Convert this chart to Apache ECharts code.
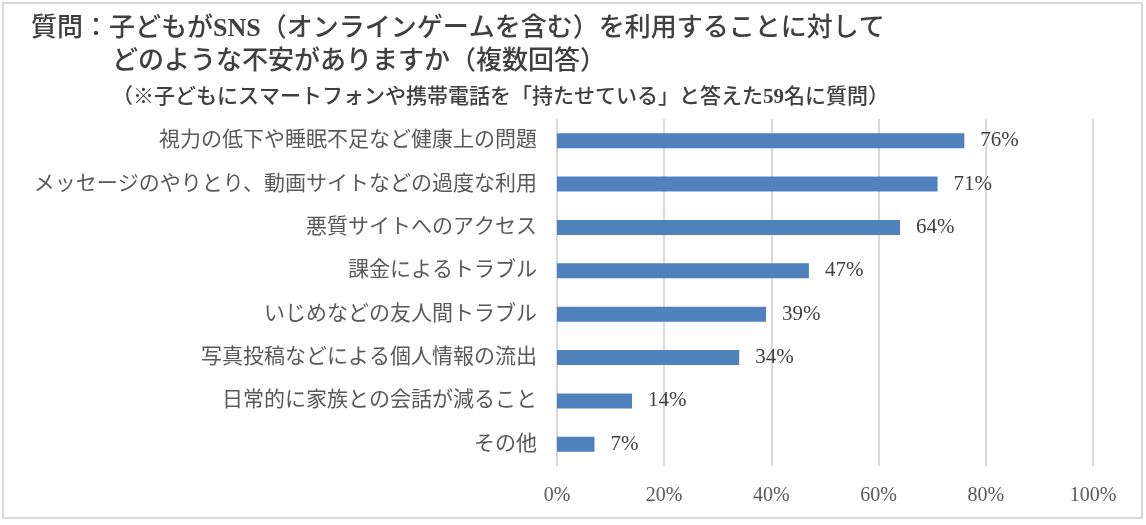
<!DOCTYPE html>
<html><head><meta charset="utf-8">
<script src="https://cdn.jsdelivr.net/npm/echarts@6/dist/echarts.min.js"></script>
<style>html,body{margin:0;padding:0;background:#fff}#c{width:1146px;height:525px}</style>
</head><body><div id="c"></div>
<script>
const categories = [
  "視力の低下や睡眠不足など健康上の問題",
  "メッセージのやりとり、動画サイトなどの過度な利用",
  "悪質サイトへのアクセス",
  "課金によるトラブル",
  "いじめなどの友人間トラブル",
  "写真投稿などによる個人情報の流出",
  "日常的に家族との会話が減ること",
  "その他"
];
const values = [76, 71, 64, 47, 39, 34, 14, 7];
const xTicks = [0, 20, 40, 60, 80, 100];
const titleLine1 = "質問：子どもが{b|SNS}（オンラインゲームを含む）を利用することに対して";
const titleLine2 = "どのような不安がありますか（複数回答）";
const titleLine3 = "（※子どもにスマートフォンや携帯電話を「持たせている」と答えた{b|59}名に質問）";

const FONT = "'Liberation Serif', 'Noto Sans CJK JP', serif";
const chart = echarts.init(document.getElementById('c'));
chart.setOption({
  backgroundColor: '#fff',
  animation: false,
  graphic: [
    { type: 'rect', shape: { x: 3, y: 3, width: 1139, height: 515 }, style: { fill: 'none', stroke: '#d9d9d9', lineWidth: 2 } },
    { type: 'text', left: 31, top: 16, style: { text: titleLine1, fontFamily: FONT, fontSize: 26, fontWeight: 500, fill: '#404040',
      rich: { b: { fontFamily: FONT, fontSize: 26, fontWeight: 'bold', fill: '#404040', color: '#404040' } } } },
    { type: 'text', left: 112, top: 49, style: { text: titleLine2, fontFamily: FONT, fontSize: 26, fontWeight: 500, fill: '#404040' } },
    { type: 'text', left: 112, top: 87, style: { text: titleLine3, fontFamily: FONT, fontSize: 21, fontWeight: 500, fill: '#404040',
      rich: { b: { fontFamily: FONT, fontSize: 21, fontWeight: 'bold', fill: '#404040', color: '#404040' } } } }
  ],
  grid: { left: 557, right: 53, top: 119, bottom: 59, containLabel: false },
  xAxis: {
    type: 'value', min: 0, max: 100, interval: 20,
    axisLine: { show: false }, axisTick: { show: false },
    splitLine: { lineStyle: { color: '#d9d9d9', width: 2 } },
    axisLabel: { margin: 20, fontSize: 20, fontFamily: FONT, color: '#595959',
      formatter: v => xTicks.includes(v) ? v + '%' : '' }
  },
  yAxis: {
    type: 'category', data: categories, inverse: true,
    axisLine: { show: false }, axisTick: { show: false },
    axisLabel: { margin: 20, fontSize: 21, fontFamily: FONT, color: '#595959' }
  },
  series: [{
    type: 'bar', data: values, barWidth: 15,
    itemStyle: { color: '#4f81bd' },
    label: { show: true, position: 'right', distance: 16, formatter: p => p.value + '%',
      fontSize: 21, fontFamily: FONT, color: '#404040' }
  }]
});
</script></body></html>
